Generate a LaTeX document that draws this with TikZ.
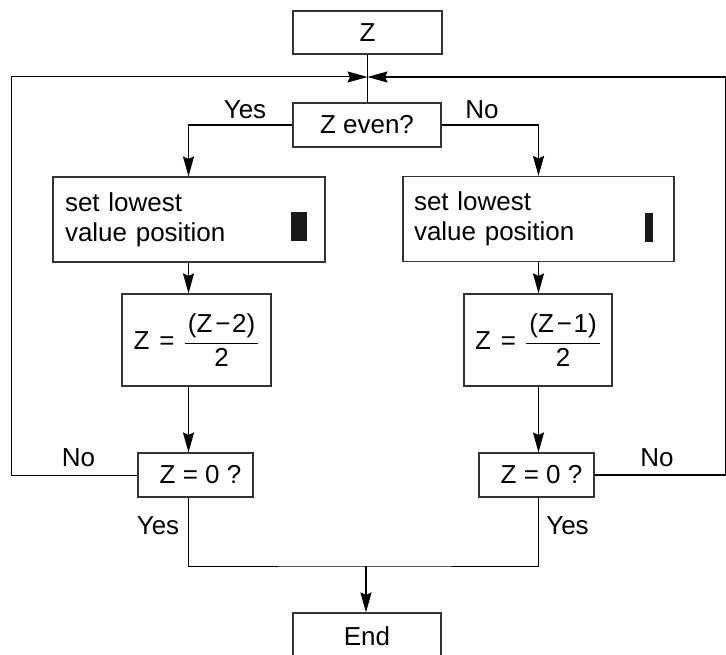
\documentclass[tikz,border=0pt]{standalone}
\usepackage{fontspec}
\setmainfont{Liberation Sans}
\usetikzlibrary{arrows.meta}
\begin{document}
\begin{tikzpicture}[x=1pt,y=-1pt,
  every node/.style={font=\fontsize{26}{30}\selectfont, inner sep=0pt},
  box/.style={draw=black!80, line width=1.1pt, rectangle},
  blk/.style={fill=black!90, rectangle},
  thinline/.style={draw=black, line width=1pt},
  thickline/.style={draw=black, line width=1.5pt},
  arr/.style={-{Stealth[length=20pt 0 0,width=11pt 0 0,inset=2.5pt 0]}}]
\useasboundingbox (0,0) rectangle (726,655);
% boxes
\node[box, minimum width=149pt, minimum height=43pt] (z) at (367.5,32.5) {Z};
\node[box, minimum width=148pt, minimum height=44pt] (even) at (367,125) {Z even?};
\node[box, minimum width=272pt, minimum height=85pt, text width=248pt, align=left] (setL) at (189,219.5) {set lowest\\value position};
\node[blk, minimum width=16pt, minimum height=29pt] (barL) at (299,226.5) {};
\node[box, minimum width=271pt, minimum height=85pt, text width=249pt, align=left] (setR) at (538.5,219) {set lowest\\value position};
\node[blk, minimum width=8pt, minimum height=29pt] (barR) at (649,227.5) {};
\node[box, minimum width=149pt, minimum height=92pt] (fL) at (196.5,340) {$\displaystyle \mbox{Z\hspace{10pt}=\hspace{9pt}}\frac{\mbox{\hspace{3pt}(Z\kern3pt−\kern1.5pt2)\hspace{3pt}}}{\mbox{2}}$};
\node[box, minimum width=148pt, minimum height=92pt] (fR) at (538,340) {$\displaystyle \mbox{Z\hspace{10pt}=\hspace{9pt}}\frac{\mbox{\hspace{3pt}(Z\kern3pt−\kern1.5pt1)\hspace{3pt}}}{\mbox{2}}$};
\node[box, minimum width=115pt, minimum height=44pt] (zL) at (195.5,475) {\hspace*{10pt}Z = 0 ?};
\node[box, minimum width=115pt, minimum height=44pt] (zR) at (536.5,475) {\hspace*{10pt}Z = 0 ?};
\node[box, minimum width=148pt, minimum height=46pt] (end) at (367,636) {End};
% coordinates
\coordinate (meet) at (367.5,77);
\coordinate (cL) at (11,77);
\coordinate (cR) at (725.5,77);
\coordinate (colL) at (188.5,0);
\coordinate (colR) at (538.5,0);
\coordinate (jy) at (366,566);
% connectors
\draw[thickline] (z.south) -- (z.south |- even.north);
\draw[thinline, arr] (zL.west) -| (cL) -- (meet);
\draw[thickline, arr] (zR.east) -| (cR) -- (meet);
\draw[thickline, arr] (even.west) -| (colL |- setL.north);
\draw[thickline, arr] (even.east) -| (colR |- setR.north);
\draw[thickline, arr] (colL |- setL.south) -- (colL |- fL.north);
\draw[thickline, arr] (colR |- setR.south) -- (colR |- fR.north);
\draw[thickline, arr] (colL |- fL.south) -- (colL |- zL.north);
\draw[thickline, arr] (colR |- fR.south) -- (colR |- zR.north);
\draw[thinline] (colL |- zL.south) |- (jy) -| (colR |- zR.south);
\draw[thickline, arr] (jy) -- (jy |- end.north);
% labels
\node[anchor=base] (yesT) at (245,119) {Yes};
\node[anchor=base] (noT) at (482,119) {No};
\node[anchor=base] (noL) at (78.5,466) {No};
\node[anchor=base] (noR) at (657,466) {No};
\node[anchor=base] (yesL) at (158,534) {Yes};
\node[anchor=base] (yesR) at (567.5,534) {Yes};
\end{tikzpicture}
\end{document}
